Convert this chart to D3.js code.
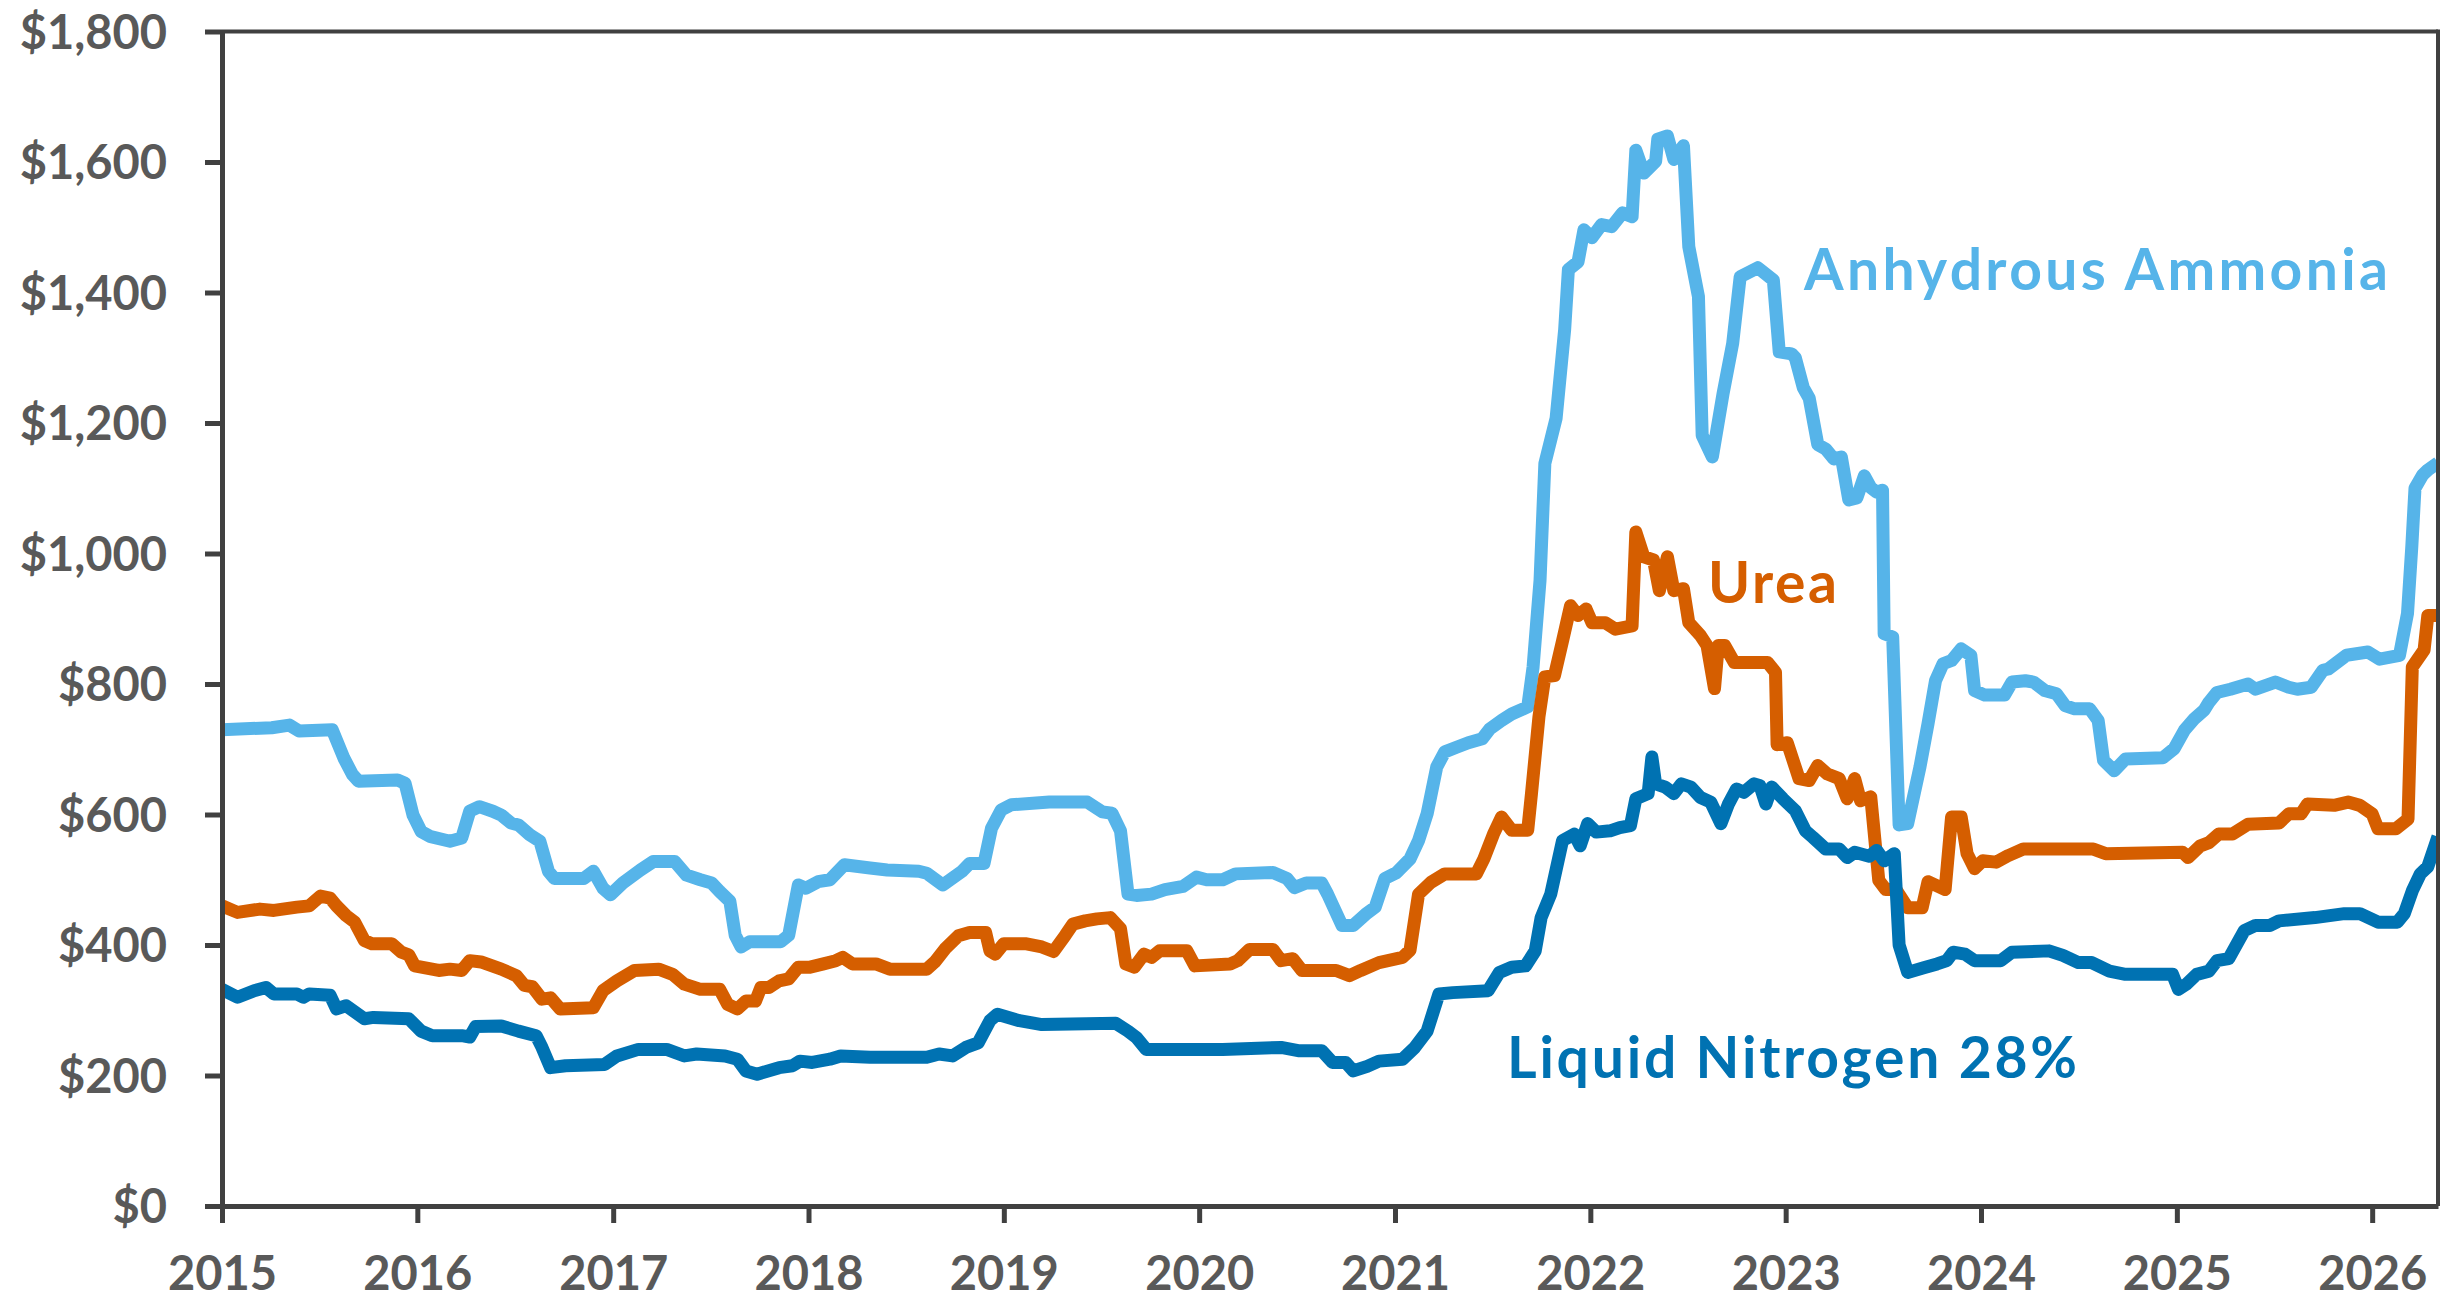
<!DOCTYPE html>
<html><head><meta charset="utf-8">
<script src="https://cdn.jsdelivr.net/npm/d3@7"></script>
<style>html,body{margin:0;padding:0;background:#fff;} svg{display:block;}</style>
</head><body>
<svg id="chart" width="2443" height="1297"></svg>
<script>
// ---------- DATA ----------
const seriesNames = ["Anhydrous Ammonia", "Urea", "Liquid Nitrogen 28%"];
const seriesColors = ["#56B4E9", "#D55E00", "#0072B2"];
const yearTicks = [2015, 2016, 2017, 2018, 2019, 2020, 2021, 2022, 2023, 2024, 2025, 2026];
const valueTicks = [0, 200, 400, 600, 800, 1000, 1200, 1400, 1600, 1800];

const ammonia = [
["2015-01-01",730],["2015-04-04",733],["2015-05-07",737],["2015-05-25",728],["2015-07-26",730],
["2015-08-17",686],["2015-09-02",661],["2015-09-13",651],["2015-11-25",653],["2015-12-09",648],
["2015-12-24",599],["2016-01-08",574],["2016-01-26",566],["2016-03-02",559],["2016-03-24",564],
["2016-04-08",605],["2016-04-26",612],["2016-05-21",605],["2016-06-06",599],["2016-06-24",587],
["2016-07-08",584],["2016-07-29",569],["2016-08-17",559],["2016-09-02",513],["2016-09-13",502],
["2016-11-07",502],["2016-11-25",513],["2016-12-13",487],["2016-12-27",477],["2017-01-19",495],
["2017-02-21",515],["2017-03-17",528],["2017-04-26",528],["2017-05-18",507],["2017-06-13",500],
["2017-07-04",495],["2017-07-19",482],["2017-08-07",467],["2017-08-17",415],["2017-08-28",397],
["2017-09-13",405],["2017-11-10",405],["2017-11-25",415],["2017-12-13",492],["2017-12-27",487],
["2018-01-19",497],["2018-02-10",500],["2018-03-09",523],["2018-04-26",518],["2018-05-28",515],
["2018-07-26",513],["2018-08-10",510],["2018-09-09",492],["2018-10-15",513],["2018-10-29",525],
["2018-11-25",525],["2018-12-09",579],["2018-12-27",607],["2019-01-15",615],["2019-03-27",619],
["2019-06-06",619],["2019-07-04",604],["2019-07-22",602],["2019-08-07",575],["2019-08-21",478],
["2019-09-06",476],["2019-10-04",478],["2019-10-29",485],["2019-12-02",490],["2019-12-27",504],
["2020-01-15",500],["2020-02-14",500],["2020-03-09",509],["2020-05-18",511],["2020-06-13",502],
["2020-06-27",488],["2020-07-19",495],["2020-08-17",495],["2020-08-28",478],["2020-09-24",430],
["2020-10-15",430],["2020-11-07",447],["2020-11-25",458],["2020-12-13",502],["2021-01-04",511],
["2021-01-29",532],["2021-02-14",560],["2021-03-02",601],["2021-03-20",673],["2021-04-04",696],
["2021-04-26",703],["2021-05-18",710],["2021-06-13",716],["2021-06-27",731],["2021-07-19",744],
["2021-08-07",754],["2021-09-06",765],["2021-09-16",826],["2021-09-29",959],["2021-10-08",1138],
["2021-10-29",1207],["2021-11-14",1343],["2021-11-21",1435],["2021-12-09",1447],["2021-12-20",1496],
["2022-01-04",1484],["2022-01-22",1504],["2022-02-10",1501],["2022-03-02",1522],["2022-03-20",1516],
["2022-03-27",1618],["2022-04-11",1583],["2022-05-03",1601],["2022-05-07",1635],["2022-05-25",1640],
["2022-06-06",1604],["2022-06-24",1625],["2022-07-04",1470],["2022-07-22",1394],["2022-07-29",1181],
["2022-08-17",1148],["2022-09-06",1245],["2022-09-24",1322],["2022-10-08",1424],["2022-11-10",1438],
["2022-12-09",1419],["2022-12-20",1309],["2023-01-12",1306],["2023-01-19",1300],["2023-02-03",1254],
["2023-02-14",1238],["2023-03-02",1167],["2023-03-17",1160],["2023-04-01",1145],["2023-04-15",1148],
["2023-04-29",1082],["2023-05-14",1085],["2023-05-28",1119],["2023-06-09",1101],["2023-06-20",1094],
["2023-07-01",1097],["2023-07-04",877],["2023-07-20",872],["2023-08-01",584],["2023-08-17",586],
["2023-09-09",673],["2023-09-24",739],["2023-10-08",805],["2023-10-22",831],["2023-11-07",836],
["2023-11-25",854],["2023-12-13",844],["2023-12-20",790],["2024-01-08",783],["2024-02-14",783],
["2024-02-28",803],["2024-03-24",805],["2024-04-08",803],["2024-04-29",790],["2024-05-21",785],
["2024-06-06",767],["2024-06-24",762],["2024-07-22",762],["2024-08-07",744],["2024-08-17",683],
["2024-09-06",667],["2024-09-27",685],["2024-12-06",687],["2024-12-27",701],["2025-01-15",729],
["2025-02-03",747],["2025-02-21",760],["2025-03-02",772],["2025-03-17",787],["2025-04-11",792],
["2025-05-14",800],["2025-05-28",792],["2025-07-04",803],["2025-07-29",795],["2025-08-14",792],
["2025-09-09",795],["2025-10-01",821],["2025-10-11",823],["2025-11-14",844],["2025-12-24",849],
["2026-01-15",838],["2026-02-21",844],["2026-03-08",908],["2026-03-16",1010],["2026-03-22",1100],
["2026-04-05",1120],["2026-04-15",1128],["2026-05-04",1139]
];

const urea = [
["2015-01-01",460],["2015-01-30",450],["2015-03-13",455],["2015-04-08",453],["2015-05-21",458],
["2015-06-13",460],["2015-07-04",475],["2015-07-22",472],["2015-08-03",460],["2015-08-21",445],
["2015-09-06",435],["2015-09-24",407],["2015-10-08",402],["2015-11-14",402],["2015-12-02",389],
["2015-12-16",385],["2015-12-27",368],["2016-02-10",361],["2016-03-02",363],["2016-03-24",361],
["2016-04-08",376],["2016-04-29",374],["2016-06-06",363],["2016-07-04",353],["2016-07-19",338],
["2016-08-03",336],["2016-08-21",317],["2016-09-06",319],["2016-09-24",302],["2016-11-25",304],
["2016-12-13",330],["2017-01-08",345],["2017-02-10",361],["2017-03-27",363],["2017-04-22",355],
["2017-05-14",340],["2017-06-13",332],["2017-07-19",332],["2017-08-03",309],["2017-08-21",302],
["2017-09-06",314],["2017-09-24",314],["2017-10-04",335],["2017-10-19",335],["2017-11-07",345],
["2017-11-25",348],["2017-12-13",366],["2018-01-04",366],["2018-01-29",371],["2018-02-21",376],
["2018-03-06",381],["2018-03-24",371],["2018-05-07",371],["2018-06-02",363],["2018-08-10",363],
["2018-08-25",374],["2018-09-13",394],["2018-10-08",414],["2018-10-29",419],["2018-11-28",419],
["2018-12-06",391],["2018-12-16",386],["2019-01-01",402],["2019-02-10",402],["2019-03-13",397],
["2019-04-04",390],["2019-04-26",415],["2019-05-10",432],["2019-06-02",437],["2019-06-24",440],
["2019-07-19",442],["2019-08-07",425],["2019-08-17",371],["2019-09-02",366],["2019-09-20",386],
["2019-10-04",381],["2019-10-19",391],["2019-12-09",391],["2019-12-24",368],["2020-02-28",371],
["2020-03-13",376],["2020-04-04",393],["2020-05-18",393],["2020-06-02",376],["2020-06-24",379],
["2020-07-11",361],["2020-09-13",361],["2020-10-08",353],["2020-10-29",361],["2020-12-02",373],
["2021-01-15",381],["2021-01-29",392],["2021-02-14",478],["2021-03-09",496],["2021-04-04",509],
["2021-06-02",509],["2021-06-16",532],["2021-07-04",570],["2021-07-19",596],["2021-08-07",576],
["2021-09-06",576],["2021-09-13",632],["2021-09-27",750],["2021-10-08",811],["2021-10-26",813],
["2021-11-10",866],["2021-11-25",920],["2021-12-09",905],["2021-12-24",915],["2022-01-04",894],
["2022-01-29",894],["2022-02-17",884],["2022-03-20",889],["2022-03-27",1033],["2022-04-11",995],
["2022-04-29",990],["2022-05-10",943],["2022-05-25",995],["2022-06-06",943],["2022-06-24",946],
["2022-07-04",894],["2022-07-26",874],["2022-08-07",859],["2022-08-21",793],["2022-08-28",859],
["2022-09-09",859],["2022-09-27",833],["2022-11-28",833],["2022-12-13",818],["2022-12-16",707],
["2023-01-04",710],["2023-01-26",655],["2023-02-14",652],["2023-03-02",675],["2023-03-20",662],
["2023-04-11",655],["2023-04-26",624],["2023-05-10",655],["2023-05-21",621],["2023-06-09",627],
["2023-06-24",499],["2023-07-07",485],["2023-07-26",485],["2023-08-17",457],["2023-09-13",457],
["2023-09-24",497],["2023-10-26",485],["2023-11-07",596],["2023-11-25",596],["2023-12-06",540],
["2023-12-20",517],["2024-01-04",529],["2024-01-29",527],["2024-02-21",537],["2024-03-20",547],
["2024-07-29",547],["2024-08-21",540],["2025-01-12",542],["2025-01-22",534],["2025-02-14",552],
["2025-03-02",557],["2025-03-20",570],["2025-04-15",570],["2025-05-14",585],["2025-07-11",587],
["2025-07-29",601],["2025-08-21",601],["2025-09-02",616],["2025-10-22",614],["2025-11-17",619],
["2025-12-09",614],["2026-01-01",601],["2026-01-12",578],["2026-02-14",578],["2026-03-09",593],
["2026-03-17",826],["2026-04-08",852],["2026-04-15",905],["2026-05-04",905]
];

const liquidNitrogen = [
["2015-01-01",332],["2015-01-30",320],["2015-03-02",330],["2015-03-24",335],["2015-04-08",325],
["2015-05-21",325],["2015-06-02",320],["2015-06-13",325],["2015-07-22",323],["2015-08-03",302],
["2015-08-21",307],["2015-09-24",287],["2015-10-11",289],["2015-12-16",287],["2016-01-08",268],
["2016-01-29",261],["2016-03-24",261],["2016-04-08",259],["2016-04-19",275],["2016-06-06",276],
["2016-07-08",268],["2016-08-10",261],["2016-08-21",243],["2016-09-06",212],["2016-10-04",215],
["2016-12-16",217],["2017-01-08",230],["2017-02-17",240],["2017-04-11",240],["2017-05-14",230],
["2017-06-06",233],["2017-07-29",230],["2017-08-21",225],["2017-09-06",207],["2017-09-27",202],
["2017-11-07",212],["2017-12-02",215],["2017-12-16",222],["2018-01-08",220],["2018-02-10",225],
["2018-03-02",230],["2018-04-26",228],["2018-08-10",228],["2018-09-02",233],["2018-09-27",230],
["2018-10-22",243],["2018-11-14",250],["2018-12-06",284],["2018-12-20",294],["2019-01-30",284],
["2019-03-13",278],["2019-07-29",280],["2019-08-21",268],["2019-09-06",258],["2019-09-24",240],
["2020-02-14",240],["2020-06-02",243],["2020-07-04",238],["2020-08-17",238],["2020-09-06",220],
["2020-10-01",220],["2020-10-15",207],["2020-11-10",214],["2020-12-02",222],["2021-01-15",225],
["2021-02-07",243],["2021-03-02",268],["2021-03-24",325],["2021-04-19",327],["2021-06-24",330],
["2021-07-15",358],["2021-08-07",366],["2021-09-02",368],["2021-09-20",391],["2021-10-01",442],
["2021-10-19",478],["2021-11-10",560],["2021-12-02",570],["2021-12-13",552],["2021-12-27",586],
["2022-01-12",573],["2022-02-07",575],["2022-02-25",580],["2022-03-17",583],["2022-03-27",624],
["2022-04-19",632],["2022-04-26",688],["2022-05-03",647],["2022-05-21",642],["2022-06-06",632],
["2022-06-20",647],["2022-07-08",642],["2022-07-26",626],["2022-08-14",619],["2022-09-02",586],
["2022-09-16",616],["2022-10-01",639],["2022-10-15",634],["2022-11-03",647],["2022-11-14",644],
["2022-11-25",616],["2022-12-06",642],["2022-12-27",624],["2023-01-19",606],["2023-02-07",575],
["2023-02-21",565],["2023-03-17",547],["2023-04-11",547],["2023-04-26",534],["2023-05-10",542],
["2023-06-06",536],["2023-06-20",545],["2023-07-04",529],["2023-07-23",540],["2023-08-01",400],
["2023-08-17",358],["2023-09-16",365],["2023-10-11",371],["2023-10-29",376],["2023-11-10",389],
["2023-12-02",386],["2023-12-20",376],["2024-02-07",376],["2024-02-28",389],["2024-05-07",391],
["2024-06-02",384],["2024-07-01",373],["2024-07-26",373],["2024-08-28",360],["2024-09-27",355],
["2024-12-24",355],["2025-01-04",332],["2025-01-19",340],["2025-02-07",355],["2025-03-02",360],
["2025-03-17",376],["2025-04-08",379],["2025-05-07",422],["2025-05-28",430],["2025-06-24",430],
["2025-07-11",437],["2025-09-16",442],["2025-11-10",448],["2025-12-09",448],["2026-01-12",435],
["2026-02-17",435],["2026-03-02",448],["2026-03-17",483],["2026-04-01",509],["2026-04-15",520],
["2026-05-04",566]
];

// ---------- CHART ----------
const svg = d3.select("#chart");
const X0 = 222, X1 = 2438, YT = 31.5, YB = 1206;
const parse = d3.timeParse("%Y-%m-%d");
const x = d3.scaleTime().domain([parse("2015-01-01"), parse("2026-05-04")]).range([X0, X1]);
const y = d3.scaleLinear().domain([0, 1800]).range([YB, YT]);

const axisColor = "#404040", textColor = "#595959";
const FONT = "Lato, 'Open Sans', sans-serif";

svg.append("rect").attr("width", 2443).attr("height", 1297).attr("fill", "#fff");

svg.append("defs").append("clipPath").attr("id", "plotclip")
  .append("rect").attr("x", X0).attr("y", 0).attr("width", X1 - X0).attr("height", YB + 10);

// lines
const line = d3.line().x(d => x(parse(d[0]))).y(d => y(d[1]));
const allSeries = [ammonia, urea, liquidNitrogen];
const g = svg.append("g").attr("clip-path", "url(#plotclip)");
allSeries.forEach((s, i) => {
  g.append("path").datum(s)
    .attr("d", line)
    .attr("fill", "none")
    .attr("stroke", seriesColors[i])
    .attr("stroke-width", 13)
    .attr("stroke-linejoin", "round")
    .attr("stroke-linecap", "butt");
});

// frame (top + right)
svg.append("line").attr("x1", X0).attr("x2", X1).attr("y1", YT).attr("y2", YT)
  .attr("stroke", axisColor).attr("stroke-width", 4);
svg.append("line").attr("x1", X1).attr("x2", X1).attr("y1", YT - 2).attr("y2", YB)
  .attr("stroke", axisColor).attr("stroke-width", 4);

// y axis
const yAxis = d3.axisLeft(y).tickValues(valueTicks).tickFormat(d3.format("$,"))
  .tickSize(17).tickSizeOuter(0).tickPadding(38);
const gy = svg.append("g").attr("transform", `translate(${X0},0)`).call(yAxis);
gy.select(".domain").attr("stroke", axisColor).attr("stroke-width", 5);
gy.selectAll(".tick line").attr("stroke", axisColor).attr("stroke-width", 5);
gy.selectAll(".tick text").attr("fill", textColor).attr("font-family", FONT)
  .attr("font-weight", 700).attr("font-size", 47).attr("dy", "0.36em");

// x axis
const xAxis = d3.axisBottom(x).tickValues(yearTicks.map(yr => new Date(yr, 0, 1)))
  .tickFormat(d3.timeFormat("%Y")).tickSize(17).tickSizeOuter(0);
const gx = svg.append("g").attr("transform", `translate(0,${YB})`).call(xAxis);
gx.select(".domain").attr("stroke", axisColor).attr("stroke-width", 5);
gx.selectAll(".tick line").attr("stroke", axisColor).attr("stroke-width", 5);
gx.selectAll(".tick text").attr("fill", textColor).attr("font-family", FONT)
  .attr("font-weight", 700).attr("font-size", 47).attr("y", 84).attr("dy", 0);

// series labels
const labelPos = [
  {x: 1804, y: 290, w: 584},
  {x: 1708, y: 603, w: 129},
  {x: 1507, y: 1078, w: 570}
];
seriesNames.forEach((name, i) => {
  svg.append("text").text(name)
    .attr("x", labelPos[i].x).attr("y", labelPos[i].y)
    .attr("fill", seriesColors[i]).attr("font-family", FONT)
    .attr("font-weight", 700).attr("font-size", 57)
    .attr("textLength", labelPos[i].w).attr("lengthAdjust", "spacing");
});
</script>
</body></html>
